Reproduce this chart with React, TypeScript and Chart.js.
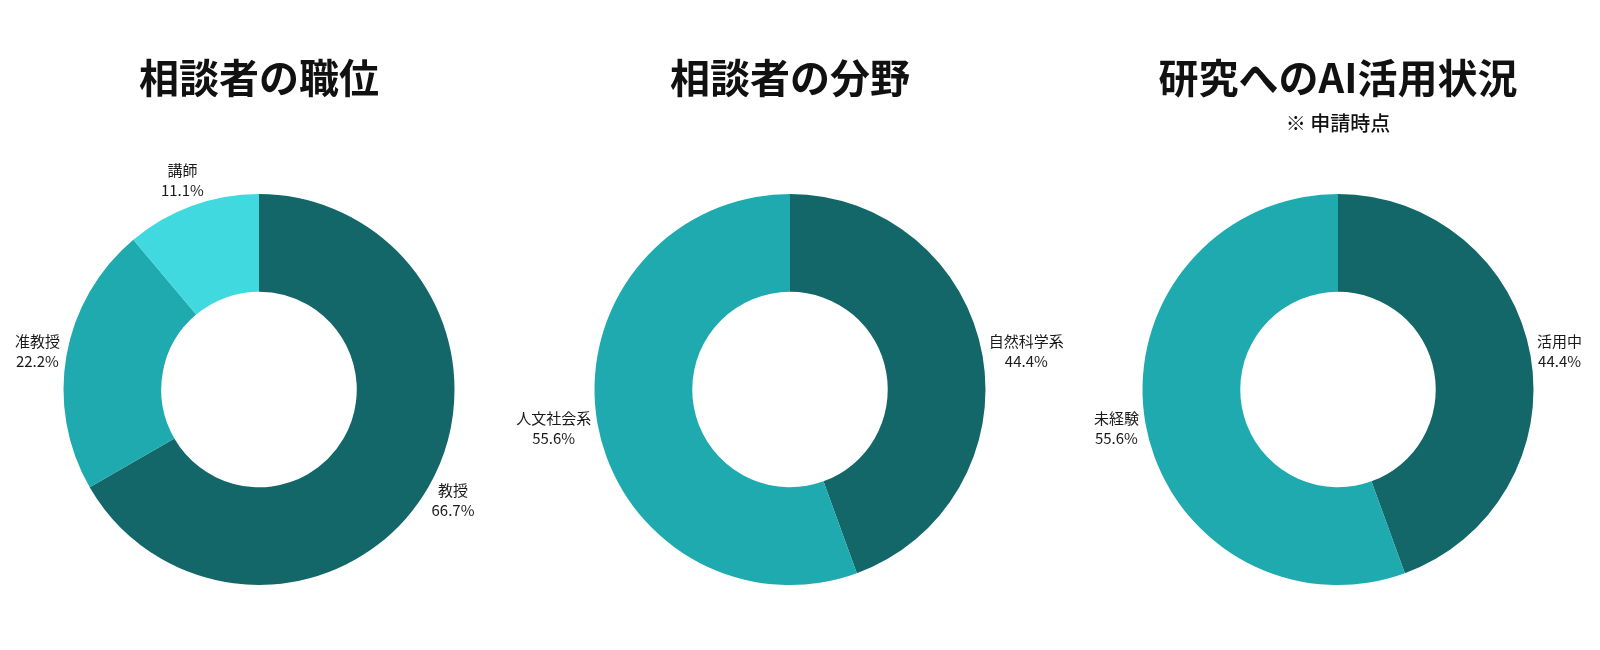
import React, { useEffect, useRef } from "react";
import { Chart, registerables, Plugin } from "chart.js";

Chart.register(...registerables);

const DARK = "#136769";
const MID = "#1eaaae";
const LIGHT = "#3fd9df";
const FONT = "'Noto Sans CJK JP', 'Noto Sans', sans-serif";
const CANVAS_W = 700;

// 相談者の職位
const positionLabels = ["教授", "准教授", "講師"];
const positionCounts = [6, 2, 1];
const positionColors = [DARK, MID, LIGHT];

// 相談者の分野
const fieldLabels = ["自然科学系", "人文社会系"];
const fieldCounts = [4, 5];
const fieldColors = [DARK, MID];

// 研究へのAI活用状況
const aiLabels = ["活用中", "未経験"];
const aiCounts = [4, 5];
const aiColors = [DARK, MID];

const outsideLabels: Plugin<"doughnut"> = {
  id: "outsideLabels",
  afterDatasetsDraw(chart) {
    const ctx = chart.ctx;
    const meta = chart.getDatasetMeta(0);
    const values = chart.data.datasets[0].data as number[];
    const total = values.reduce((a, b) => a + b, 0);
    const lineH = 20;

    ctx.save();
    ctx.font = `15px ${FONT}`;
    ctx.fillStyle = "#1a1a1a";
    ctx.textAlign = "center";
    ctx.textBaseline = "middle";

    meta.data.forEach((arc, i) => {
      const { x, y, startAngle, endAngle, outerRadius } = (arc as any).getProps(
        ["x", "y", "startAngle", "endAngle", "outerRadius"],
        true
      );
      const mid = (startAngle + endAngle) / 2;
      const dx = Math.cos(mid);
      const dy = Math.sin(mid);
      const lines = [
        String(chart.data.labels?.[i] ?? ""),
        ((values[i] / total) * 100).toFixed(1) + "%",
      ];
      const w = Math.max(...lines.map((l) => ctx.measureText(l).width));
      const h = lines.length * lineH;
      const cx = x + dx * (outerRadius + 7) + (dx * w) / 2;
      const cy = y + dy * (outerRadius + 7) + (dy * h) / 2;
      lines.forEach((l, k) => {
        ctx.fillText(l, cx, cy - h / 2 + lineH / 2 + k * lineH);
      });
    });
    ctx.restore();
  },
};

interface DonutProps {
  title: string;
  subtitle?: string;
  labels: string[];
  values: number[];
  colors: string[];
  centerX: number;
}

const Donut: React.FC<DonutProps> = ({ title, subtitle, labels, values, colors, centerX }) => {
  const canvasRef = useRef<HTMLCanvasElement | null>(null);

  useEffect(() => {
    if (!canvasRef.current) return;
    const chart = new Chart(canvasRef.current, {
      type: "doughnut",
      data: {
        labels,
        datasets: [
          {
            data: values,
            backgroundColor: colors,
            borderWidth: 0,
            hoverOffset: 0,
          },
        ],
      },
      options: {
        responsive: false,
        animation: false,
        cutout: "50%",
        layout: { padding: { top: 0, bottom: 65, left: 0, right: 0 } },
        plugins: {
          legend: { display: false },
          tooltip: { enabled: false },
          title: {
            display: true,
            text: title,
            color: "#111",
            font: { family: FONT, size: 40, weight: "bold", lineHeight: 1.2 },
            padding: { top: 54, bottom: subtitle ? 0 : 92 },
          },
          subtitle: {
            display: !!subtitle,
            text: subtitle ?? "",
            color: "#111",
            font: { family: FONT, size: 20, weight: 500, lineHeight: 1.2 },
            padding: { top: 9.5, bottom: 58.5 },
          },
        },
      },
      plugins: [outsideLabels],
    });
    return () => chart.destroy();
  }, []);

  return (
    <canvas
      ref={canvasRef}
      width={CANVAS_W}
      height={650}
      style={{
        position: "absolute",
        left: centerX - CANVAS_W / 2,
        top: 0,
        width: CANVAS_W,
        height: 650,
      }}
    />
  );
};

export default function App() {
  return (
    <div
      style={{
        position: "fixed",
        left: 0,
        top: 0,
        width: 1600,
        height: 650,
        background: "#fff",
        overflow: "hidden",
      }}
    >
      <Donut title="相談者の職位" labels={positionLabels} values={positionCounts} colors={positionColors} centerX={259} />
      <Donut title="相談者の分野" labels={fieldLabels} values={fieldCounts} colors={fieldColors} centerX={789.5} />
      <Donut
        title="研究へのAI活用状況"
        subtitle="※ 申請時点"
        labels={aiLabels}
        values={aiCounts}
        colors={aiColors}
        centerX={1337.5}
      />
    </div>
  );
}
